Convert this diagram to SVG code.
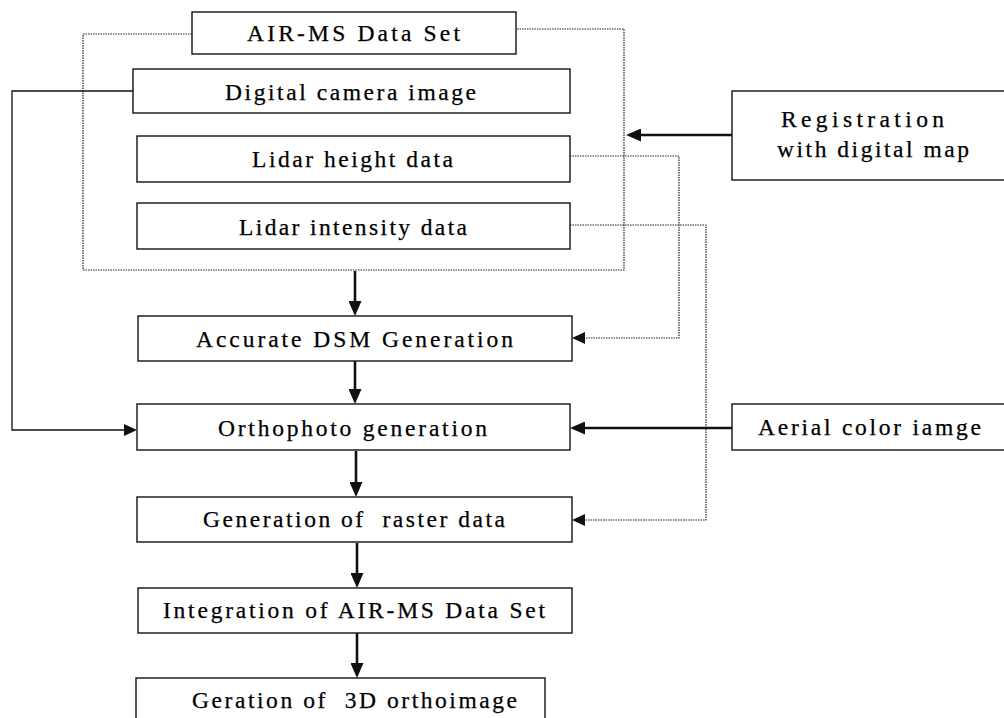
<svg xmlns="http://www.w3.org/2000/svg" width="1004" height="718" viewBox="0 0 1004 718">
<style>
.box{fill:#fff;stroke:#111;stroke-width:1.4}
.t{font-family:"Liberation Serif","Times New Roman",serif;font-size:23.5px;fill:#000;stroke:#000;stroke-width:0.25}
.dot{fill:none;stroke:#222;stroke-width:1.2;stroke-dasharray:1.5 1}
.thin{fill:none;stroke:#111;stroke-width:1.3}
.thick{fill:none;stroke:#111;stroke-width:2.6}
</style>
<defs>
<marker id="big" viewBox="0 0 15 13" refX="0" refY="6.5" markerWidth="15" markerHeight="13" orient="auto" markerUnits="userSpaceOnUse"><path d="M0,0 L15,6.5 L0,13 z" fill="#111"/></marker>
<marker id="sm" viewBox="0 0 13 12" refX="0" refY="6" markerWidth="13" markerHeight="12" orient="auto" markerUnits="userSpaceOnUse"><path d="M0,0 L13,6 L0,12 z" fill="#111"/></marker>
</defs>
<rect width="1004" height="718" fill="#fff"/>
<g id="connectors">
<path class="dot" d="M192,34 H83 V270 H624 V29 H516"/>
<path class="dot" d="M570,156 H679 V338 H585" marker-end="url(#sm)"/>
<path class="dot" d="M570,225 H706 V520 H585" marker-end="url(#sm)"/>
<path class="thin" d="M133,91 H12 V430 H124" marker-end="url(#sm)"/>
<path class="thick" d="M355,271 V301" marker-end="url(#big)"/>
<path class="thick" d="M355,361 V389" marker-end="url(#big)"/>
<path class="thick" d="M356,451 V482" marker-end="url(#big)"/>
<path class="thick" d="M357,543 V573" marker-end="url(#big)"/>
<path class="thick" d="M357,633 V663" marker-end="url(#big)"/>
<path class="thick" d="M732,135 H641" marker-end="url(#big)"/>
<path class="thick" d="M732,428 H585" marker-end="url(#big)"/>
</g>
<g id="air-ms"><rect class="box" x="192" y="12" width="324" height="42"/><text class="t" x="247" y="41" textLength="213">AIR-MS Data Set</text></g>
<g id="digital-camera"><rect class="box" x="133" y="69" width="437" height="44"/><text class="t" x="225" y="100" textLength="251">Digital camera image</text></g>
<g id="lidar-height"><rect class="box" x="137" y="136" width="433" height="46"/><text class="t" x="252" y="167" textLength="201">Lidar height data</text></g>
<g id="lidar-intensity"><rect class="box" x="137" y="203" width="433" height="46"/><text class="t" x="239" y="235" textLength="228">Lidar intensity data</text></g>
<g id="registration"><rect class="box" x="732" y="91" width="290" height="89"/><text class="t" x="781" y="127" textLength="163">Registration</text><text class="t" x="777" y="157" textLength="192">with digital map</text></g>
<g id="dsm"><rect class="box" x="138" y="316" width="434" height="45"/><text class="t" x="196" y="347" textLength="317">Accurate DSM Generation</text></g>
<g id="ortho"><rect class="box" x="137" y="404" width="433" height="46"/><text class="t" x="218" y="436" textLength="269">Orthophoto generation</text></g>
<g id="aerial"><rect class="box" x="732" y="404" width="290" height="46"/><text class="t" x="758" y="435" textLength="223">Aerial color iamge</text></g>
<g id="raster"><rect class="box" x="137" y="497" width="435" height="45"/><text class="t" x="203" y="527" textLength="302" xml:space="preserve">Generation of  raster data</text></g>
<g id="integration"><rect class="box" x="138" y="588" width="434" height="45"/><text class="t" x="163" y="618" textLength="382">Integration of AIR-MS Data Set</text></g>
<g id="geration"><rect class="box" x="136" y="678" width="409" height="48"/><text class="t" x="192" y="708" textLength="325" xml:space="preserve">Geration of  3D orthoimage</text></g>
</svg>
